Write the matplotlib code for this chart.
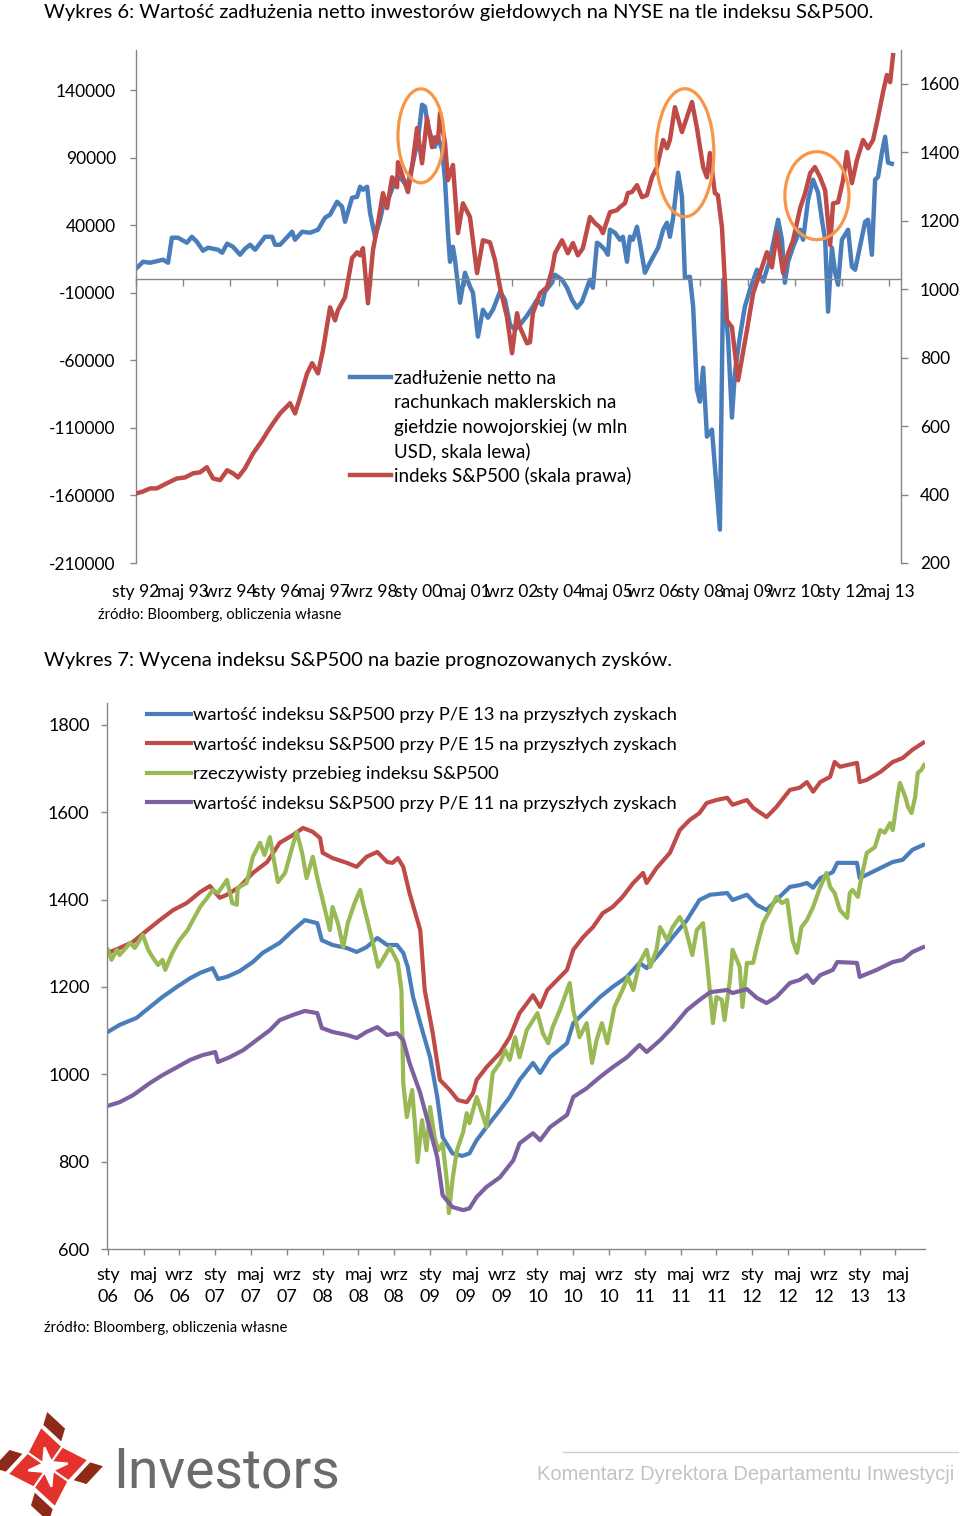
import numpy as np
import matplotlib
matplotlib.use("Agg")
import matplotlib.pyplot as plt
from matplotlib.patches import Ellipse, Polygon
from matplotlib.lines import Line2D

plt.rcParams['font.family'] = ['Lato', 'DejaVu Sans']

BLUE = '#4a7ebb'
RED = '#be4b48'
GREEN = '#98b954'
PURPLE = '#7d60a0'
ORANGE = '#f79646'
AXIS = '#868686'
LOGO_RED = '#e5322d'
LOGO_DARK = '#8e2a17'

W, H = 960, 1516

# ---------- Wykres 6: months counted from Jan 1992 ----------
debt_month = [0, 2.4, 4.8, 9.2, 10.9, 12.2, 14.3, 17.3, 19.0, 20.7,
              22.8, 24.5, 27.9, 29.3, 31.0, 33.0, 35.4, 37.1, 38.8, 40.5,
              43.9, 46.3, 47.3, 49.0, 53.1, 54.1, 56.5, 59.2, 61.9, 64.3,
              66.0, 68.4, 70.1, 71.1, 73.5, 75.2, 76.2, 77.2, 78.6, 79.6,
              81.3, 83.0, 84.0, 85.7, 87.4, 88.8, 90.5, 92.2, 94.2, 95.9,
              97.3, 98.3, 99.3, 100.7, 101.7, 102.7, 104.1, 105.1, 106.1, 106.8,
              107.8, 108.5, 110.2, 111.9, 113.6, 114.6, 116.3, 118.0, 119.7, 121.4,
              123.8, 125.5, 127.2, 128.9, 130.6, 133.0, 135.0, 136.4, 138.1, 139.1,
              141.5, 142.5, 143.5, 144.9, 146.6, 148.3, 150.0, 151.7, 153.4, 154.4,
              155.4, 156.8, 157.8, 159.5, 160.5, 161.2, 162.9, 164.6, 165.6, 167.0,
              168.0, 169.0, 170.4, 171.4, 173.1, 174.1, 175.9, 177.6, 179.3, 180.6,
              181.6, 182.7, 184.4, 185.7, 186.7, 188.4, 189.5, 190.8, 191.8, 192.9,
              194.2, 195.9, 198.6, 199.7, 201.4, 202.7, 203.7, 205.4, 207.1, 208.8,
              211.2, 213.3, 215.6, 218.4, 219.7, 220.7, 221.8, 223.5, 225.9, 226.9,
              228.6, 230.3, 232.0, 233.3, 234.4, 235.4, 236.7, 237.8, 238.8, 240.1,
              242.2, 243.5, 244.6, 248.0, 249.0, 250.3, 251.4, 252.4, 253.7, 254.8,
              255.8, 257.1]
debt_value = [7800, 12900, 12200, 14400, 12200, 30700, 30700, 27000, 31400, 27700,
              21100, 23300, 21800, 19600, 26300, 24000, 18100, 22600, 25500, 21800,
              31400, 31400, 25500, 25500, 35100, 29200, 35100, 34400, 36600, 45500,
              47700, 57300, 53600, 42500, 60300, 61000, 68400, 66200, 68400, 49200,
              31400, 44000, 53600, 58800, 68400, 75800, 73600, 68400, 86200, 103200,
              129100, 127600, 112800, 103200, 98000, 105400, 95800, 73600, 34400, 12900,
              24000, 14400, -17400, 4800, -5500, -10000, -42500, -22600, -28500, -22600,
              -9200, -15200, -33700, -37300, -33700, -27000, -20300, -15200, -18900, -9200,
              -2600, 3300, 1800, -400, -6300, -15200, -21100, -16600, -6300, -400,
              -6300, 27000, 25500, 21800, 18100, 36600, 34400, 29200, 31400, 12900,
              31400, 29200, 38800, 27000, 4800, 9200, 16600, 23300, 36600, 41800,
              31400, 45500, 78800, 61000, 1100, 1800, -20300, -81700, -90600, -65500,
              -116500, -111300, -185300, -400, -44700, -102400, -69200, -42500, -20300, -7800,
              7000, -1800, 14400, 44000, 29200, -2600, 12900, 24000, 36600, 29200,
              58800, 73600, 64000, 44000, 29200, -24000, 23300, 4800, -4100, 29200,
              36600, 9200, 7000, 42500, 44000, 18100, 73600, 75800, 93600, 105400,
              86200, 85400]

spx_month = [0, 2.4, 4.8, 7.1, 10.5, 13.9, 16.7, 19.4, 21.8, 24.1,
             26.2, 28.6, 31.0, 33.0, 34.7, 37.1, 39.8, 42.9, 44.6, 46.6,
             49.0, 52.4, 54.1, 55.8, 58.2, 59.9, 61.9, 63.6, 66.0, 67.7,
             68.7, 71.1, 73.5, 75.2, 76.2, 77.2, 78.9, 80.6, 82.3, 84.0,
             85.4, 87.1, 88.8, 89.1, 90.8, 92.5, 93.9, 95.6, 97.3, 99.0,
             100.7, 101.7, 102.7, 103.4, 105.1, 106.1, 107.8, 109.5, 111.2, 113.6,
             116.0, 118.0, 120.4, 122.1, 123.8, 126.2, 127.9, 129.6, 130.6, 133.0,
             134.0, 135.0, 137.4, 139.8, 141.5, 142.5, 144.9, 146.9, 148.6, 150.3,
             152.0, 154.4, 156.1, 157.8, 158.8, 161.2, 163.6, 164.6, 166.3, 167.3,
             168.7, 170.4, 172.1, 173.8, 175.5, 177.2, 179.3, 180.6, 181.6, 183.3,
             185.7, 187.4, 189.1, 190.8, 192.9, 194.2, 195.2, 196.9, 197.9, 199.3,
             201.0, 202.7, 204.8, 207.8, 209.9, 212.2, 214.6, 216.3, 218.0, 220.1,
             221.8, 223.5, 225.9, 227.6, 229.3, 230.9, 232.7, 234.4, 236.1, 237.1,
             238.8, 240.5, 241.8, 243.5, 245.2, 247.3, 249.0, 250.7, 252.4, 254.1,
             255.4, 256.5, 257.5]
spx_value = [403, 409, 418, 418, 433, 447, 450, 462, 465, 480,
             447, 442, 471, 462, 450, 477, 520, 558, 582, 608,
             637, 667, 637, 684, 754, 784, 754, 822, 947, 909,
             939, 977, 1091, 1108, 1099, 1120, 959, 1114, 1193, 1281,
             1237, 1327, 1298, 1371, 1327, 1284, 1357, 1471, 1368, 1500,
             1415, 1444, 1430, 1515, 1427, 1319, 1363, 1164, 1251, 1211,
             1047, 1143, 1137, 1085, 1006, 918, 813, 930, 889, 842,
             845, 930, 988, 1006, 1056, 1105, 1143, 1105, 1135, 1099,
             1120, 1211, 1193, 1181, 1164, 1225, 1231, 1240, 1251, 1281,
             1284, 1304, 1269, 1275, 1327, 1357, 1436, 1412, 1436, 1532,
             1459, 1503, 1547, 1471, 1357, 1327, 1398, 1281, 1275, 1181,
             909, 889, 734, 880, 988, 1047, 1108, 1064, 1167, 1047,
             1105, 1143, 1237, 1281, 1339, 1357, 1327, 1289, 1129, 1251,
             1254, 1319, 1401, 1310, 1377, 1436, 1412, 1436, 1503, 1576,
             1626, 1605, 1684]

x6_ticks = list(range(0, 257, 16))
x6_labels = ['sty 92', 'maj 93', 'wrz 94', 'sty 96', 'maj 97', 'wrz 98', 'sty 00',
             'maj 01', 'wrz 02', 'sty 04', 'maj 05', 'wrz 06', 'sty 08', 'maj 09',
             'wrz 10', 'sty 12', 'maj 13']
y6_left = list(range(-210000, 140001, 50000))
y6_right = list(range(200, 1601, 200))

# orange circles around the three peaks (month, left-scale value, size)
peak_month = [96.9, 186.7, 231.6]
peak_value = [106100, 93600, 61800]
peak_w = [15.6, 19.7, 21.8]
peak_h = [69500, 94700, 65100]

# ---------- Wykres 7: months counted from Jan 2006 ----------
pe13_month = [0, 1.3, 3.2, 4.7, 6.1, 7.7, 9.2, 10.3, 11.7, 12.3, 13.3, 14.7, 16.2,
              17.3, 19.2, 20.7, 22.0, 23.4, 23.9, 25.1, 26.7, 27.8, 28.9, 30.1,
              31.2, 32.3, 33.0, 33.5, 34.1, 34.9, 36.0, 36.8, 37.4, 38.5, 39.6,
              40.4, 41.2, 42.3, 43.8, 44.9, 46.0, 47.5, 48.3, 49.4, 51.3, 52.0,
              53.5, 55.0, 56.4, 58.0, 59.4, 60.2, 61.7, 63.1, 64.7, 66.1, 67.3,
              69.2, 69.8, 71.4, 72.5, 73.6, 74.7, 76.2, 77.3, 78.1, 78.8, 79.6,
              81.0, 81.5, 83.7, 84.0, 85.9, 87.7, 88.8, 89.9, 91.1]
pe13 = [1097, 1113, 1129, 1154, 1177, 1200, 1220, 1232, 1243, 1218, 1223, 1236, 1257,
        1278, 1301, 1330, 1353, 1346, 1307, 1296, 1289, 1280, 1291, 1312,
        1296, 1296, 1278, 1246, 1177, 1117, 1039, 948, 856, 819, 813,
        819, 849, 879, 918, 948, 987, 1026, 1003, 1039, 1071, 1117,
        1147, 1177, 1200, 1223, 1255, 1243, 1278, 1314, 1353, 1399, 1411,
        1415, 1399, 1411, 1388, 1376, 1399, 1429, 1433, 1438, 1427, 1449,
        1463, 1484, 1484, 1449, 1468, 1486, 1491, 1514, 1525]

pe15_month = [0, 1.3, 2.8, 4.4, 5.8, 7.3, 8.8, 10.3, 11.4, 12.5, 13.3, 14.7, 16.2,
              17.8, 19.2, 20.7, 21.8, 22.9, 23.7, 24.0, 25.1, 26.7, 27.8, 28.9,
              30.1, 31.2, 31.8, 32.4, 33.0, 33.7, 34.9, 35.4, 36.3, 37.1, 38.2,
              39.1, 40.1, 40.8, 41.2, 42.3, 43.8, 44.9, 46.0, 47.5, 48.3, 49.1,
              50.2, 51.3, 52.0, 53.1, 54.2, 55.3, 56.4, 57.5, 58.7, 59.8, 60.2,
              61.3, 62.8, 63.9, 65.0, 66.1, 66.9, 68.0, 69.2, 69.8, 71.4, 72.1,
              73.6, 74.7, 76.2, 77.3, 78.1, 78.8, 79.6, 80.7, 81.2, 81.8, 83.7,
              84.0, 84.8, 86.3, 87.7, 88.8, 89.9, 91.1]
pe15 = [1278, 1289, 1303, 1330, 1353, 1376, 1392, 1417, 1431, 1404, 1411, 1429, 1461,
        1486, 1530, 1548, 1564, 1555, 1541, 1507, 1495, 1484, 1475, 1498,
        1509, 1486, 1484, 1495, 1475, 1415, 1330, 1193, 1094, 987, 964,
        941, 936, 957, 987, 1016, 1049, 1085, 1140, 1181, 1154, 1193,
        1216, 1239, 1285, 1314, 1337, 1369, 1383, 1406, 1438, 1461, 1438,
        1472, 1507, 1559, 1582, 1598, 1621, 1628, 1633, 1617, 1628, 1610,
        1589, 1612, 1651, 1656, 1669, 1647, 1669, 1681, 1715, 1704, 1713,
        1669, 1674, 1692, 1715, 1724, 1743, 1759]

real_month = [0, 0.4, 1.0, 1.3, 2.5, 3.0, 3.9, 4.5, 5.0, 5.6,
              6.1, 6.4, 7.2, 8.0, 8.9, 9.5, 10.3, 11.1, 11.7, 12.3,
              13.3, 13.9, 14.4, 14.5, 15.5, 16.2, 17.0, 17.5, 18.1, 18.4,
              19.0, 19.8, 20.6, 21.1, 21.7, 22.2, 22.9, 23.5, 24.0, 24.8,
              25.1, 25.7, 26.3, 26.8, 27.6, 28.2, 28.5, 28.9, 29.6, 30.2,
              30.7, 31.5, 32.1, 32.4, 32.8, 33.0, 33.4, 34.0, 34.3, 34.6,
              35.1, 35.6, 36.0, 36.5, 36.9, 37.4, 37.9, 38.1, 38.5, 39.0,
              39.7, 40.1, 40.4, 41.2, 41.8, 42.3, 43.0, 43.8, 44.4, 44.9,
              45.5, 46.0, 46.8, 48.0, 48.6, 49.2, 49.7, 50.5, 51.6, 52.0,
              52.7, 53.5, 54.1, 54.6, 55.2, 55.8, 56.6, 57.5, 58.1, 58.7,
              59.4, 60.2, 60.6, 61.3, 61.7, 62.5, 63.1, 63.9, 64.5, 65.3,
              65.8, 66.5, 67.0, 67.6, 68.0, 68.6, 68.9, 69.5, 69.8, 70.6,
              70.9, 71.4, 72.1, 72.5, 73.2, 74.0, 74.7, 75.3, 75.9, 76.5,
              77.0, 77.5, 78.1, 78.8, 79.6, 80.3, 80.7, 81.2, 81.8, 82.6,
              82.9, 83.2, 83.8, 84.2, 84.8, 85.7, 86.3, 86.8, 87.4, 87.7,
              88.3, 88.5, 89.1, 89.4, 89.8, 90.2, 90.5, 90.9, 91.2]
real_spx = [1285, 1262, 1285, 1273, 1301, 1289, 1319, 1285, 1268, 1250,
            1262, 1239, 1278, 1307, 1330, 1353, 1383, 1404, 1422, 1415,
            1445, 1392, 1388, 1427, 1438, 1498, 1530, 1502, 1543, 1507,
            1440, 1461, 1520, 1555, 1507, 1449, 1498, 1440, 1399, 1330,
            1383, 1346, 1291, 1346, 1394, 1422, 1392, 1360, 1301, 1246,
            1262, 1291, 1268, 1255, 1193, 980, 902, 964, 888, 799,
            895, 826, 925, 856, 826, 842, 751, 682, 758, 826,
            868, 911, 888, 948, 911, 879, 1003, 1026, 1055, 1033,
            1085, 1039, 1101, 1140, 1094, 1071, 1108, 1147, 1209, 1147,
            1085, 1117, 1026, 1078, 1117, 1071, 1154, 1193, 1223, 1193,
            1255, 1285, 1246, 1285, 1337, 1307, 1337, 1360, 1337, 1273,
            1330, 1346, 1246, 1117, 1177, 1170, 1124, 1216, 1285, 1246,
            1154, 1255, 1255, 1291, 1346, 1376, 1406, 1392, 1399, 1307,
            1278, 1337, 1353, 1383, 1429, 1461, 1429, 1415, 1376, 1358,
            1415, 1422, 1406, 1452, 1507, 1520, 1559, 1553, 1575, 1559,
            1644, 1667, 1635, 1612, 1598, 1635, 1690, 1697, 1708]

pe11_month = [0.2, 1.3, 2.8, 4.7, 6.1, 7.7, 9.2, 10.6, 12.0, 12.3, 13.6, 15.1, 16.6,
              18.1, 19.2, 20.7, 22.0, 23.4, 23.9, 25.1, 26.7, 27.8, 28.9, 30.1,
              31.2, 32.3, 33.0, 33.7, 34.9, 36.0, 36.8, 37.4, 38.5, 39.7, 40.4,
              41.2, 42.3, 43.8, 45.3, 46.0, 47.5, 48.3, 49.4, 51.3, 52.0, 53.5,
              55.0, 56.4, 58.0, 59.4, 60.2, 61.7, 63.1, 64.7, 66.1, 67.3, 69.2,
              69.8, 71.4, 72.5, 73.6, 74.7, 76.2, 77.3, 78.1, 78.8, 79.6, 81.0,
              81.5, 83.7, 84.0, 85.9, 87.7, 88.8, 89.9, 91.1]
pe11 = [929, 936, 952, 980, 998, 1016, 1033, 1044, 1051, 1028, 1039, 1055, 1078,
        1101, 1124, 1136, 1145, 1140, 1106, 1097, 1090, 1083, 1097, 1108,
        1090, 1094, 1078, 1026, 957, 872, 810, 723, 696, 689, 693,
        719, 742, 764, 803, 842, 865, 849, 879, 907, 948, 968,
        994, 1016, 1039, 1067, 1051, 1078, 1108, 1147, 1170, 1188, 1193,
        1186, 1195, 1175, 1163, 1177, 1209, 1216, 1227, 1209, 1227, 1239,
        1257, 1255, 1223, 1239, 1257, 1262, 1280, 1291]

x7_ticks = list(range(0, 89, 4))
x7_labels = ['sty\n06', 'maj\n06', 'wrz\n06', 'sty\n07', 'maj\n07', 'wrz\n07',
             'sty\n08', 'maj\n08', 'wrz\n08', 'sty\n09', 'maj\n09', 'wrz\n09',
             'sty\n10', 'maj\n10', 'wrz\n10', 'sty\n11', 'maj\n11', 'wrz\n11',
             'sty\n12', 'maj\n12', 'wrz\n12', 'sty\n13', 'maj\n13']
y7_ticks = list(range(600, 1801, 200))

legend7 = ['wartość indeksu S&P500 przy P/E 13 na przyszłych zyskach',
           'wartość indeksu S&P500 przy P/E 15 na przyszłych zyskach',
           'rzeczywisty przebieg indeksu S&P500',
           'wartość indeksu S&P500 przy P/E 11 na przyszłych zyskach']

source_txt = 'źródło: Bloomberg, obliczenia własne'

fig = plt.figure(figsize=(W / 100, H / 100), dpi=100)


def fx(px):
    return px / W


def fy(py):
    return 1 - py / H


def fit(t, width):
    # scale a text so that it spans the given width in pixels
    r = fig.canvas.get_renderer()
    w = t.get_window_extent(renderer=r).width
    t.set_fontsize(t.get_fontsize() * width / w)


# background axes in pixel units for the footer logo
bg = fig.add_axes([0, 0, 1, 1], zorder=-1)
bg.set_xlim(0, W)
bg.set_ylim(H, 0)
bg.axis('off')

# ---------------- Wykres 6 ----------------
ax1 = fig.add_axes([fx(136), fy(563), (901 - 136) / W, (563 - 50) / H])
ax2 = ax1.twinx()
line_debt, = ax1.plot(debt_month, debt_value, color=BLUE, lw=3.2, solid_joinstyle='round')
line_spx, = ax2.plot(spx_month, spx_value, color=RED, lw=3.2, solid_joinstyle='round')
ax1.set_xlim(0, 260.2)
ax1.set_ylim(-210000, 169600)
ax2.set_ylim(200, 1699)
ax1.set_yticks(y6_left)
ax1.set_yticklabels([str(v) for v in y6_left])
ax2.set_yticks(y6_right)
ax2.set_yticklabels([str(v) for v in y6_right])
ax1.set_xticks(x6_ticks)
ax1.tick_params(axis='x', direction='out', length=5, width=1, color=AXIS, labelbottom=False)
ax1.tick_params(axis='y', direction='out', length=4.5, width=1, color=AXIS, pad=10, labelsize=12.5)
ax2.tick_params(axis='y', direction='out', length=5, width=1, color=AXIS, pad=8.5, labelsize=12.5)
ax1.spines['top'].set_visible(False)
ax1.spines['right'].set_visible(False)
ax1.spines['bottom'].set_position(('data', 0))
for s in ['top', 'bottom', 'left']:
    ax2.spines[s].set_visible(False)
for sp in [ax1.spines['left'], ax1.spines['bottom'], ax2.spines['right']]:
    sp.set_color(AXIS)
    sp.set_linewidth(1)

for m, lab in zip(x6_ticks, x6_labels):
    ax1.text(m, -0.066, lab, transform=ax1.get_xaxis_transform(),
             ha='center', va='baseline', fontsize=12.5)

for m, v, w, h in zip(peak_month, peak_value, peak_w, peak_h):
    ax2.add_patch(Ellipse((m, v), w, h, transform=ax1.transData, fill=False,
                          edgecolor=ORANGE, lw=2.3, zorder=5))

blank = Line2D([], [], color='none')
ax2.legend([line_debt, blank, blank, blank, line_spx],
           ['zadłużenie netto na', 'rachunkach maklerskich na',
            'giełdzie nowojorskiej (w mln', 'USD, skala lewa)',
            'indeks S&P500 (skala prawa)'],
           loc='upper left', bbox_to_anchor=(fx(350), fy(370)),
           bbox_transform=fig.transFigure, frameon=False, fontsize=13.5,
           handlelength=2.2, handletextpad=0.12, labelspacing=0.36,
           borderpad=0, borderaxespad=0)

t = fig.text(fx(44), fy(18), 'Wykres 6: Wartość zadłużenia netto inwestorów giełdowych na NYSE na tle indeksu S&P500.',
             ha='left', va='baseline', fontsize=14)
fit(t, 836)
t = fig.text(fx(98), fy(619), source_txt, ha='left', va='baseline', fontsize=10)
fit(t, 244)

# ---------------- Wykres 7 ----------------
t = fig.text(fx(44), fy(666), 'Wykres 7: Wycena indeksu S&P500 na bazie prognozowanych zysków.',
             ha='left', va='baseline', fontsize=14)
fit(t, 632)

ax3 = fig.add_axes([fx(107), fy(1249), (925 - 107) / W, (1249 - 703) / H])
ax3.plot(pe13_month, pe13, color=BLUE, lw=3, label=legend7[0], solid_joinstyle='round')
ax3.plot(pe15_month, pe15, color=RED, lw=3, label=legend7[1], solid_joinstyle='round')
ax3.plot(real_month, real_spx, color=GREEN, lw=3, label=legend7[2], solid_joinstyle='round')
ax3.plot(pe11_month, pe11, color=PURPLE, lw=3, label=legend7[3], solid_joinstyle='round')
ax3.set_xlim(-0.1, 91.3)
ax3.set_ylim(600, 1850)
ax3.set_yticks(y7_ticks)
ax3.set_xticks(x7_ticks)
ax3.set_xticklabels(x7_labels, linespacing=1.45)
ax3.tick_params(axis='y', direction='out', length=4.5, width=1, color=AXIS, pad=8, labelsize=13)
ax3.tick_params(axis='x', direction='out', length=4, width=1, color=AXIS, pad=9, labelsize=13)
ax3.spines['top'].set_visible(False)
ax3.spines['right'].set_visible(False)
for s in ['left', 'bottom']:
    ax3.spines[s].set_color(AXIS)
    ax3.spines[s].set_linewidth(1)
ax3.legend(loc='upper left', bbox_to_anchor=(fx(147), fy(707)),
           bbox_transform=fig.transFigure, frameon=False, fontsize=13.2,
           handlelength=2.4, handletextpad=0.1, labelspacing=0.74,
           borderpad=0, borderaxespad=0)

t = fig.text(fx(44), fy(1332), source_txt, ha='left', va='baseline', fontsize=10)
fit(t, 244)

# ---------------- footer ----------------
cx, cy = 48, 1467


def pt(r, ang):
    a = np.radians(ang)
    return np.array([cx + r * np.cos(a), cy + r * np.sin(a)])


for k in range(4):
    th = -100 + 90 * k
    T = pt(41, th)
    V = pt(25, th + 45)
    Vp = pt(25, th - 45)
    tin = pt(20, th)
    vin = pt(6, th + 45)
    vpin = pt(6, th - 45)
    bg.add_patch(Polygon([Vp, T, V, vin, tin, vpin], closed=True,
                         facecolor=LOGO_RED, edgecolor='white', lw=1.5))
    e = V - T
    n = np.array([e[1], -e[0]]) / np.hypot(*e)
    if np.dot((T + V) / 2 - np.array([cx, cy]), n) < 0:
        n = -n
    a0 = T + 0.02 * e + 3 * n
    a1 = T + 0.85 * e + 3 * n
    bg.add_patch(Polygon([a0, a1, a1 + 12 * n - 0.2 * e, a0 + 12 * n - 0.2 * e],
                         closed=True, facecolor=LOGO_DARK, edgecolor='none'))

t = fig.text(fx(113), fy(1488), 'Investors', ha='left', va='baseline',
             color='#6b6b6b', family=['Roboto', 'DejaVu Sans'], fontsize=40)
fit(t, 227)
fig.add_artist(Line2D([fx(563), fx(958)], [fy(1452), fy(1452)], color='#cfcfcf',
                      lw=1, transform=fig.transFigure))
t = fig.text(fx(537), fy(1480), 'Komentarz Dyrektora Departamentu Inwestycji',
             ha='left', va='baseline', color='#c3c3c3',
             family=['Liberation Sans Narrow', 'Liberation Sans'], fontsize=14)
fit(t, 418)

fig.savefig('out.png', dpi=100)
